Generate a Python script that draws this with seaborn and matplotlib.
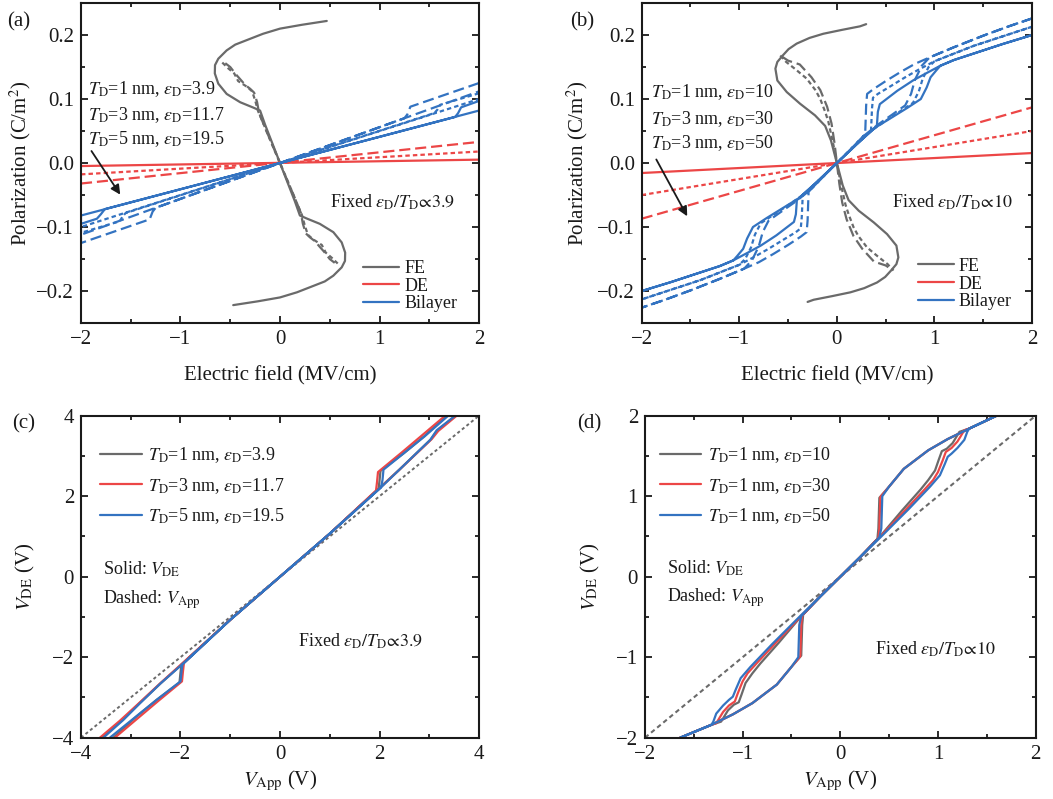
import matplotlib
matplotlib.use("Agg")
import matplotlib.pyplot as plt
from matplotlib.ticker import MultipleLocator
from matplotlib.lines import Line2D
import seaborn as sns

# ---------------- panel (a) data ----------------
FE_A_P = [0.222, 0.216, 0.210, 0.202, 0.192, 0.185, 0.176, 0.163, 0.153, 0.140, 0.124, 0.108, 0.095, 0.0866, 0.082, 0.06, 0.04, 0.02,
          0.0, -0.02, -0.04, -0.06, -0.082, -0.0866, -0.095, -0.108, -0.124, -0.140, -0.153, -0.163, -0.176, -0.185, -0.192, -0.202,
          -0.210, -0.216, -0.222]
FE_A_E = [0.47, 0.22, 0.0, -0.17, -0.335, -0.45, -0.536, -0.62, -0.653, -0.655, -0.62, -0.536, -0.40, -0.268, -0.20, -0.15, -0.10, -0.05,
          0.0, 0.05, 0.10, 0.15, 0.20, 0.268, 0.40, 0.536, 0.62, 0.655, 0.653, 0.62, 0.536, 0.45, 0.335, 0.17, 0.0, -0.22, -0.47]
FE_A_E2 = [-0.58, -0.52, -0.46, -0.42, -0.38, -0.33, -0.28, -0.25, -0.22, -0.16, -0.08, 0.0, 0.08, 0.16, 0.22, 0.25, 0.28, 0.33, 0.38, 0.42, 0.46, 0.52, 0.58]
FE_A_P2 = [0.157, 0.148, 0.140, 0.128, 0.124, 0.119, 0.112, 0.098, 0.081, 0.059, 0.029, 0.0, -0.029, -0.059, -0.081, -0.098, -0.112, -0.119, -0.124, -0.128, -0.140, -0.148, -0.157]
FE_A_E3 = [-0.55, -0.50, -0.44, -0.40, -0.35, -0.30, -0.26, -0.23, -0.21, -0.15, -0.07, 0.0, 0.07, 0.15, 0.21, 0.23, 0.26, 0.30, 0.35, 0.40, 0.44, 0.50, 0.55]
FE_A_P3 = [0.156, 0.150, 0.138, 0.131, 0.122, 0.116, 0.110, 0.095, 0.078, 0.055, 0.026, 0.0, -0.026, -0.055, -0.078, -0.095, -0.110, -0.116, -0.122, -0.131, -0.138, -0.150, -0.156]

DE_E = [-2.0, 2.0]
DE_A1 = [-0.0047, 0.0053]
DE_A2 = [-0.0177, 0.018]
DE_A3 = [-0.032, 0.033]

BL_A1_E = [2.00, 1.82, 1.79, 1.76, 0.00, -2.00, -2.00, -1.84, -1.80, -1.76, 0.00, 2.00]
BL_A1_P = [0.097, 0.087, 0.078, 0.072, 0.000, -0.082, -0.095, -0.087, -0.080, -0.072, 0.000, 0.082]
BL_A2_E = [2.00, 1.61, 1.58, 1.55, 0.00, -2.00, -2.00, -1.61, -1.58, -1.55, 0.00, 2.00]
BL_A2_P = [0.109, 0.091, 0.083, 0.078, 0.000, -0.100, -0.109, -0.091, -0.083, -0.078, 0.000, 0.100]
BL_A3_E = [2.00, 1.31, 1.28, 1.25, 0.00, -2.00, -2.00, -1.31, -1.28, -1.25, 0.00, 2.00]
BL_A3_P = [0.125, 0.088, 0.076, 0.070, 0.000, -0.112, -0.125, -0.088, -0.076, -0.070, 0.000, 0.112]

LABELS_A = [r"$T_{\rm D}$=1 nm, $\varepsilon_{\rm D}$=3.9",
            r"$T_{\rm D}$=3 nm, $\varepsilon_{\rm D}$=11.7",
            r"$T_{\rm D}$=5 nm, $\varepsilon_{\rm D}$=19.5"]

# ---------------- panel (b) data ----------------
FE_B_P = [0.217, 0.2136, 0.208, 0.202, 0.1955, 0.1866, 0.178, 0.168, 0.158, 0.1475, 0.129, 0.111, 0.0928, 0.0745, 0.058, 0.035, 0.0,
          -0.035, -0.058, -0.0745, -0.0928, -0.111, -0.129, -0.1475, -0.158, -0.168, -0.178, -0.1866, -0.1955, -0.202, -0.208, -0.2136, -0.217]
FE_B_E = [0.30, 0.237, 0.05, -0.139, -0.28, -0.412, -0.495, -0.555, -0.61, -0.63, -0.61, -0.514, -0.378, -0.224, -0.12, -0.06, 0.0,
          0.06, 0.12, 0.224, 0.378, 0.514, 0.61, 0.63, 0.61, 0.555, 0.495, 0.412, 0.28, 0.139, -0.05, -0.237, -0.30]
FE_B_E2 = [-0.58, -0.52, -0.42, -0.31, -0.22, -0.17, -0.12, -0.088, -0.04, 0.0, 0.04, 0.088, 0.12, 0.17, 0.22, 0.31, 0.42, 0.52, 0.58]
FE_B_P2 = [0.168, 0.158, 0.146, 0.132, 0.114, 0.100, 0.080, 0.065, 0.032, 0.0, -0.032, -0.065, -0.080, -0.100, -0.114, -0.132, -0.146, -0.158, -0.168]
FE_B_E3 = [-0.56, -0.50, -0.38, -0.26, -0.17, -0.10, -0.055, -0.025, 0.0, 0.025, 0.055, 0.10, 0.17, 0.26, 0.38, 0.50, 0.56]
FE_B_P3 = [0.166, 0.160, 0.154, 0.134, 0.114, 0.088, 0.062, 0.032, 0.0, -0.032, -0.062, -0.088, -0.114, -0.134, -0.154, -0.160, -0.166]

DE_B1 = [-0.0156, 0.0156]
DE_B2 = [-0.050, 0.050]
DE_B3 = [-0.087, 0.087]

BL_B1_E = [2.00, 1.70, 1.40, 1.20, 1.06, 0.90, 0.78, 0.62, 0.50, 0.44, 0.42, 0.41, 0.20, 0.00, -0.20, -0.39,
           -0.55, -0.72, -0.86, -0.92, -0.96, -1.02, -1.06, -1.20, -1.40, -1.70, -2.00,
           -1.70, -1.40, -1.20, -1.06, -0.90, -0.78, -0.62, -0.50, -0.44, -0.42, -0.41, -0.20, 0.00, 0.20, 0.39,
           0.55, 0.72, 0.86, 0.92, 0.96, 1.02, 1.06, 1.20, 1.40, 1.70, 2.00]
BL_B1_P = [0.200, 0.186, 0.171, 0.161, 0.152, 0.139, 0.129, 0.113, 0.099, 0.092, 0.080, 0.058, 0.029, 0.000, -0.029, -0.055,
           -0.070, -0.086, -0.100, -0.118, -0.134, -0.145, -0.152, -0.161, -0.171, -0.186, -0.200,
           -0.186, -0.171, -0.161, -0.152, -0.139, -0.129, -0.113, -0.099, -0.092, -0.080, -0.058, -0.029, 0.000, 0.029, 0.055,
           0.070, 0.086, 0.100, 0.118, 0.134, 0.145, 0.152, 0.161, 0.171, 0.186, 0.200]
BL_B2_E = [2.00, 1.70, 1.40, 1.15, 1.00, 0.85, 0.70, 0.55, 0.42, 0.37, 0.36, 0.35, 0.18, 0.00, -0.18, -0.34,
           -0.50, -0.65, -0.78, -0.84, -0.88, -0.94, -1.00, -1.15, -1.40, -1.70, -2.00,
           -1.70, -1.40, -1.15, -1.00, -0.85, -0.70, -0.55, -0.42, -0.37, -0.36, -0.35, -0.18, 0.00, 0.18, 0.34,
           0.50, 0.65, 0.78, 0.84, 0.88, 0.94, 1.00, 1.15, 1.40, 1.70, 2.00]
BL_B2_P = [0.213, 0.198, 0.183, 0.168, 0.159, 0.147, 0.134, 0.120, 0.108, 0.102, 0.085, 0.051, 0.026, 0.000, -0.026, -0.049,
           -0.066, -0.081, -0.094, -0.112, -0.132, -0.150, -0.159, -0.168, -0.183, -0.198, -0.213,
           -0.198, -0.183, -0.168, -0.159, -0.147, -0.134, -0.120, -0.108, -0.102, -0.085, -0.051, -0.026, 0.000, 0.026, 0.049,
           0.066, 0.081, 0.094, 0.112, 0.132, 0.150, 0.159, 0.168, 0.183, 0.198, 0.213]
BL_B3_E = [2.00, 1.75, 1.50, 1.20, 0.95, 0.80, 0.65, 0.50, 0.37, 0.31, 0.30, 0.29, 0.15, 0.00, -0.15, -0.28,
           -0.42, -0.57, -0.70, -0.76, -0.80, -0.87, -0.95, -1.20, -1.50, -1.75, -2.00,
           -1.75, -1.50, -1.20, -0.95, -0.80, -0.65, -0.50, -0.37, -0.31, -0.30, -0.29, -0.15, 0.00, 0.15, 0.28,
           0.42, 0.57, 0.70, 0.76, 0.80, 0.87, 0.95, 1.20, 1.50, 1.75, 2.00]
BL_B3_P = [0.226, 0.213, 0.199, 0.181, 0.165, 0.155, 0.142, 0.128, 0.115, 0.108, 0.090, 0.045, 0.023, 0.000, -0.023, -0.043,
           -0.060, -0.076, -0.090, -0.108, -0.130, -0.152, -0.165, -0.181, -0.199, -0.213, -0.226,
           -0.213, -0.199, -0.181, -0.165, -0.155, -0.142, -0.128, -0.115, -0.108, -0.090, -0.045, -0.023, 0.000, 0.023, 0.043,
           0.060, 0.076, 0.090, 0.108, 0.130, 0.152, 0.165, 0.181, 0.199, 0.213, 0.226]

LABELS_B = [r"$T_{\rm D}$=1 nm, $\varepsilon_{\rm D}$=10",
            r"$T_{\rm D}$=3 nm, $\varepsilon_{\rm D}$=30",
            r"$T_{\rm D}$=3 nm, $\varepsilon_{\rm D}$=50"]

# ---------------- panel (c) data ----------------
DIAG_C = [-4.0, 4.0]
VC_GRAY = [-3.58, -3.18, -2.83, -2.40, -1.95, -1.00, 0.00, 1.00, 1.98, 2.00, 2.02, 2.48, 2.90, 3.35, 3.44,
           3.53, 3.16, 3.03, 2.40, 1.95, 1.00, 0.00, -1.00, -1.98, -2.00, -2.02, -2.48, -2.90, -3.35]
VDE_C_GRAY = [-4.00, -3.57, -3.15, -2.65, -2.15, -1.07, 0.00, 1.07, 2.18, 2.38, 2.63, 3.06, 3.49, 4.00, 4.10,
              4.00, 3.63, 3.41, 2.66, 2.15, 1.07, 0.00, -1.07, -2.18, -2.38, -2.63, -3.06, -3.49, -4.00]
VC_RED = [-3.62, -3.22, -2.85, -2.40, -1.97, -1.00, 0.00, 1.00, 1.93, 1.95, 1.97, 2.45, 2.90, 3.32, 3.42,
          3.55, 3.18, 3.05, 2.40, 1.97, 1.00, 0.00, -1.00, -1.93, -1.95, -1.97, -2.45, -2.90, -3.32]
VDE_C_RED = [-4.00, -3.58, -3.16, -2.64, -2.16, -1.07, 0.00, 1.07, 2.14, 2.35, 2.60, 3.09, 3.56, 4.00, 4.10,
             4.00, 3.62, 3.42, 2.66, 2.16, 1.07, 0.00, -1.07, -2.14, -2.35, -2.60, -3.09, -3.56, -4.00]
VC_BLUE = [-3.55, -3.15, -2.81, -2.40, -1.94, -1.00, 0.00, 1.00, 2.03, 2.06, 2.08, 2.50, 2.90, 3.38, 3.46,
           3.52, 3.15, 3.02, 2.40, 2.03, 1.00, 0.00, -1.00, -1.96, -1.98, -2.00, -2.50, -2.90, -3.42]
VDE_C_BLUE = [-4.00, -3.56, -3.14, -2.65, -2.15, -1.07, 0.00, 1.07, 2.22, 2.40, 2.66, 3.08, 3.48, 4.00, 4.10,
              4.00, 3.64, 3.40, 2.66, 2.22, 1.07, 0.00, -1.07, -2.18, -2.36, -2.60, -3.08, -3.48, -4.00]
LABELS_C = LABELS_A

# ---------------- panel (d) data ----------------
DIAG_D = [-2.0, 2.0]
VD_GRAY = [1.60, 1.32, 1.22, 1.19, 1.15, 1.09, 1.04, 1.01, 0.97, 0.90, 0.82, 0.63, 0.40, 0.20, 0.00, -0.20, -0.38, -0.39, -0.40,
           -0.50, -0.65, -0.90, -1.10, -1.32, -1.64, -1.32, -1.22, -1.19, -1.15, -1.09, -1.04, -1.01, -0.97, -0.90, -0.82, -0.63, -0.40,
           -0.20, 0.00, 0.20, 0.38, 0.39, 0.40, 0.50, 0.65, 0.90, 1.10, 1.32, 1.60]
VDE_D_GRAY = [2.00, 1.84, 1.80, 1.74, 1.66, 1.59, 1.56, 1.46, 1.32, 1.20, 1.08, 0.82, 0.49, 0.24, 0.00, -0.24, -0.47, -0.60, -0.98,
              -1.12, -1.34, -1.57, -1.71, -1.84, -2.00, -1.84, -1.80, -1.74, -1.66, -1.59, -1.56, -1.46, -1.32, -1.20, -1.08, -0.82, -0.49,
              -0.24, 0.00, 0.24, 0.47, 0.60, 0.98, 1.12, 1.34, 1.57, 1.71, 1.84, 2.00]
VD_RED = [1.60, 1.32, 1.27, 1.24, 1.20, 1.14, 1.08, 1.05, 1.00, 0.95, 0.86, 0.66, 0.41, 0.20, 0.00, -0.20, -0.39, -0.40, -0.41,
          -0.50, -0.65, -0.90, -1.10, -1.32, -1.64, -1.32, -1.27, -1.24, -1.20, -1.14, -1.08, -1.05, -1.00, -0.95, -0.86, -0.66, -0.41,
          -0.20, 0.00, 0.20, 0.39, 0.40, 0.41, 0.50, 0.65, 0.90, 1.10, 1.32, 1.60]
VDE_D_RED = [2.00, 1.84, 1.82, 1.76, 1.68, 1.60, 1.55, 1.45, 1.30, 1.20, 1.08, 0.82, 0.50, 0.24, 0.00, -0.24, -0.48, -0.60, -0.99,
             -1.12, -1.34, -1.57, -1.71, -1.84, -2.00, -1.84, -1.82, -1.76, -1.68, -1.60, -1.55, -1.45, -1.30, -1.20, -1.08, -0.82, -0.50,
             -0.24, 0.00, 0.24, 0.48, 0.60, 0.99, 1.12, 1.34, 1.57, 1.71, 1.84, 2.00]
VD_BLUE = [1.60, 1.32, 1.30, 1.27, 1.20, 1.14, 1.10, 1.07, 1.02, 0.92, 0.70, 0.42, 0.20, 0.00, -0.20, -0.40, -0.42, -0.43,
           -0.50, -0.65, -0.90, -1.10, -1.32, -1.64, -1.32, -1.30, -1.27, -1.20, -1.14, -1.10, -1.07, -1.02, -0.92, -0.70, -0.42,
           -0.20, 0.00, 0.20, 0.40, 0.42, 0.43, 0.50, 0.65, 0.90, 1.10, 1.32, 1.60]
VDE_D_BLUE = [2.00, 1.84, 1.80, 1.70, 1.60, 1.53, 1.49, 1.40, 1.26, 1.12, 0.84, 0.50, 0.24, 0.00, -0.24, -0.49, -0.60, -1.00,
              -1.12, -1.34, -1.57, -1.71, -1.84, -2.00, -1.84, -1.80, -1.70, -1.60, -1.53, -1.49, -1.40, -1.26, -1.12, -0.84, -0.50,
              -0.24, 0.00, 0.24, 0.49, 0.60, 1.00, 1.12, 1.34, 1.57, 1.71, 1.84, 2.00]
LABELS_D = [r"$T_{\rm D}$=1 nm, $\varepsilon_{\rm D}$=10",
            r"$T_{\rm D}$=1 nm, $\varepsilon_{\rm D}$=30",
            r"$T_{\rm D}$=1 nm, $\varepsilon_{\rm D}$=50"]

# ---------------- style ----------------
FS = 15      # ticks, axis labels, panel labels
FT = 13      # legends and annotations
sns.set_theme(style="ticks")
plt.rcParams.update({
    "font.family": ["Liberation Serif", "DejaVu Serif"],
    "mathtext.fontset": "stix",
    "font.size": FS,
    "axes.linewidth": 1.5,
    "axes.edgecolor": "#1a1a1a",
    "text.color": "#1a1a1a",
    "axes.labelcolor": "#1a1a1a",
    "xtick.color": "#1a1a1a",
    "ytick.color": "#1a1a1a",
    "axes.unicode_minus": True,
})

GRAY = "#6a6a6a"
RED = "#ec4646"
BLUE = "#3373c1"
SOLID = "-"
SHORT = (0, (2.0, 1.4))
LONG = (0, (5.0, 2.2))
LW = 1.6


def draw(ax, x, y, color, ls=SOLID, lw=LW):
    sns.lineplot(x=x, y=y, ax=ax, color=color, linestyle=ls, linewidth=lw,
                 sort=False, estimator=None, legend=False)


def style_axes(ax, xmaj, xmin, ymaj, ymin, xlim, ylim):
    ax.set_xlim(*xlim)
    ax.set_ylim(*ylim)
    ax.xaxis.set_major_locator(MultipleLocator(xmaj))
    ax.xaxis.set_minor_locator(MultipleLocator(xmin))
    ax.yaxis.set_major_locator(MultipleLocator(ymaj))
    ax.yaxis.set_minor_locator(MultipleLocator(ymin))
    ax.tick_params(which="both", direction="in", top=True, right=True, labelsize=FS, width=1.3)
    ax.tick_params(which="major", length=5, pad=5)
    ax.tick_params(which="minor", length=3)
    for s in ax.spines.values():
        s.set_linewidth(1.5)


def legend(ax, labels, loc, anchor, hl, hp, ls):
    handles = [Line2D([], [], color=c, lw=LW) for c in (GRAY, RED, BLUE)]
    ax.legend(handles, labels, loc=loc, bbox_to_anchor=anchor, frameon=False, fontsize=FT,
              handlelength=hl, handletextpad=hp, labelspacing=ls, borderpad=0, borderaxespad=0)


fig = plt.figure(figsize=(10.53, 7.99), dpi=100)
axA = fig.add_axes([0.0769, 0.5957, 0.378, 0.4005])
axB = fig.add_axes([0.6094, 0.5957, 0.3707, 0.4005])
axC = fig.add_axes([0.0769, 0.0767, 0.378, 0.4030])
axD = fig.add_axes([0.6125, 0.0767, 0.3710, 0.4030])

# ---- (a)
draw(axA, FE_A_E, FE_A_P, GRAY)
draw(axA, FE_A_E2, FE_A_P2, GRAY, SHORT)
draw(axA, FE_A_E3, FE_A_P3, GRAY, LONG)
draw(axA, DE_E, DE_A1, RED)
draw(axA, DE_E, DE_A2, RED, SHORT)
draw(axA, DE_E, DE_A3, RED, LONG)
draw(axA, BL_A1_E, BL_A1_P, BLUE)
draw(axA, BL_A2_E, BL_A2_P, BLUE, SHORT)
draw(axA, BL_A3_E, BL_A3_P, BLUE, LONG)
style_axes(axA, 1, 0.5, 0.1, 0.05, (-2, 2), (-0.25, 0.25))
axA.set_xlabel("Electric field (MV/cm)", fontsize=FS)
axA.set_ylabel(r"Polarization (C/m$^2$)", fontsize=FS)
axA.xaxis.set_label_coords(0.5, -0.135)
axA.yaxis.set_label_coords(-0.12, 0.5)
for lab, yy in zip(LABELS_A, [0.107, 0.0667, 0.0292]):
    axA.text(-1.927, yy, lab, fontsize=FT, va="baseline", ha="left")
axA.annotate("", xy=(-1.59, -0.053), xytext=(-1.91, 0.0224),
             arrowprops=dict(arrowstyle="-|>", color="#1a1a1a", lw=1.3, mutation_scale=14))
axA.text(0.503, -0.0697, r"Fixed $\varepsilon_{\rm D}/T_{\rm D}\!\propto\!3.9$", fontsize=FT, va="baseline", ha="left")
legend(axA, ["FE", "DE", "Bilayer"], "lower right", (0.945, 0.033), 2.0, 0.28, 0.04)
fig.text(0.007, 1 - 21.7 / 799, "(a)", fontsize=FS, va="center", ha="left")

# ---- (b)
draw(axB, FE_B_E, FE_B_P, GRAY)
draw(axB, FE_B_E2, FE_B_P2, GRAY, SHORT)
draw(axB, FE_B_E3, FE_B_P3, GRAY, LONG)
draw(axB, DE_E, DE_B1, RED)
draw(axB, DE_E, DE_B2, RED, SHORT)
draw(axB, DE_E, DE_B3, RED, LONG)
draw(axB, BL_B1_E, BL_B1_P, BLUE)
draw(axB, BL_B2_E, BL_B2_P, BLUE, SHORT)
draw(axB, BL_B3_E, BL_B3_P, BLUE, LONG)
style_axes(axB, 1, 0.5, 0.1, 0.05, (-2, 2), (-0.25, 0.25))
axB.set_xlabel("Electric field (MV/cm)", fontsize=FS)
axB.set_ylabel(r"Polarization (C/m$^2$)", fontsize=FS)
axB.xaxis.set_label_coords(0.5, -0.135)
axB.yaxis.set_label_coords(-0.132, 0.5)
for lab, yy in zip(LABELS_B, [0.103, 0.0616, 0.0234]):
    axB.text(-1.908, yy, lab, fontsize=FT, va="baseline", ha="left")
axB.annotate("", xy=(-1.52, -0.087), xytext=(-1.864, 0.0094),
             arrowprops=dict(arrowstyle="-|>", color="#1a1a1a", lw=1.3, mutation_scale=14))
axB.text(0.561, -0.0697, r"Fixed $\varepsilon_{\rm D}/T_{\rm D}\!\propto\!10$", fontsize=FT, va="baseline", ha="left")
legend(axB, ["FE", "DE", "Bilayer"], "lower right", (0.948, 0.040), 2.0, 0.28, 0.04)
fig.text(570 / 1053, 1 - 21.7 / 799, "(b)", fontsize=FS, va="center", ha="left")

# ---- (c)
draw(axC, DIAG_C, DIAG_C, GRAY, (0, (1.6, 1.4)), 1.4)
draw(axC, VC_GRAY, VDE_C_GRAY, GRAY)
draw(axC, VC_RED, VDE_C_RED, RED)
draw(axC, VC_BLUE, VDE_C_BLUE, BLUE)
style_axes(axC, 2, 1, 2, 1, (-4, 4), (-4, 4))
axC.set_xlabel(r"$V_{\rm App}$ (V)", fontsize=FS)
axC.set_ylabel(r"$V_{\rm DE}$ (V)", fontsize=FS)
axC.xaxis.set_label_coords(0.5, -0.098)
axC.yaxis.set_label_coords(-0.111, 0.5)
legend(axC, LABELS_C, "upper left", (0.048, 0.909), 2.3, 0.37, 0.61)
axC.text(-3.552, 0.042, r"Solid: $V_{\rm DE}$", fontsize=FT, va="baseline", ha="left")
axC.text(-3.552, -0.678, r"Dashed: $V_{\rm App}$", fontsize=FT, va="baseline", ha="left")
axC.text(0.368, -1.739, r"Fixed $\varepsilon_{\rm D}/T_{\rm D}\!\propto\!3.9$", fontsize=FT, va="baseline", ha="left")
fig.text(12 / 1053, 1 - 424 / 799, "(c)", fontsize=FS, va="center", ha="left")

# ---- (d)
draw(axD, DIAG_D, DIAG_D, GRAY, (0, (2.2, 1.6)), 1.5)
draw(axD, VD_GRAY, VDE_D_GRAY, GRAY)
draw(axD, VD_RED, VDE_D_RED, RED)
draw(axD, VD_BLUE, VDE_D_BLUE, BLUE)
style_axes(axD, 1, 0.5, 1, 0.5, (-2, 2), (-2, 2))
axD.set_xlabel(r"$V_{\rm App}$ (V)", fontsize=FS)
axD.set_ylabel(r"$V_{\rm DE}$ (V)", fontsize=FS)
axD.xaxis.set_label_coords(0.5, -0.098)
axD.yaxis.set_label_coords(-0.111, 0.5)
legend(axD, LABELS_D, "upper left", (0.038, 0.909), 2.3, 0.37, 0.61)
axD.text(-1.772, 0.042, r"Solid: $V_{\rm DE}$", fontsize=FT, va="baseline", ha="left")
axD.text(-1.772, -0.311, r"Dashed: $V_{\rm App}$", fontsize=FT, va="baseline", ha="left")
axD.text(0.354, -0.973, r"Fixed $\varepsilon_{\rm D}/T_{\rm D}\!\propto\!10$", fontsize=FT, va="baseline", ha="left")
fig.text(577 / 1053, 1 - 424 / 799, "(d)", fontsize=FS, va="center", ha="left")

fig.savefig("out.png", dpi=100)
